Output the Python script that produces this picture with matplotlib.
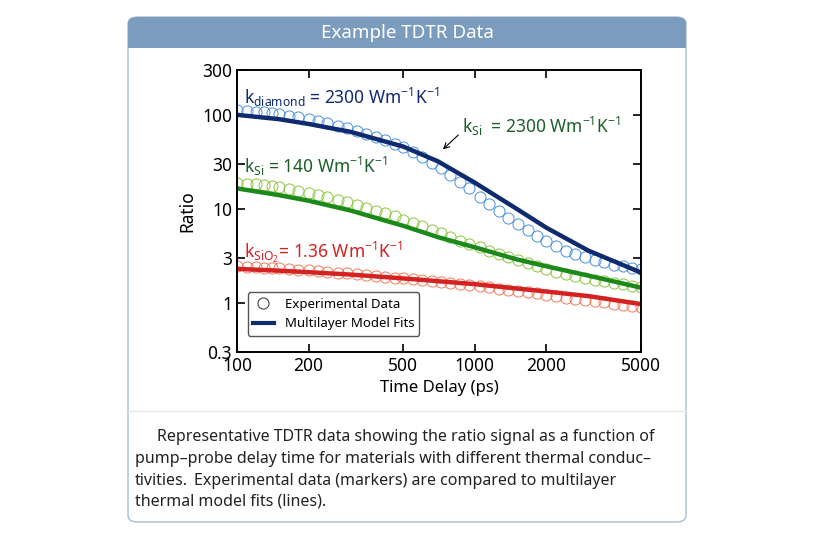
import matplotlib.pyplot as plt
from matplotlib.patches import FancyBboxPatch, Rectangle
from matplotlib.lines import Line2D

plt.rcParams['font.family'] = ['Noto Sans', 'DejaVu Sans']
plt.rcParams['mathtext.fontset'] = 'custom'
plt.rcParams['mathtext.rm'] = 'Noto Sans'
plt.rcParams['mathtext.it'] = 'Noto Sans'

# fitted model curves
fit_t = [100, 150, 200, 300, 500, 700, 1000, 1500, 2000, 3000, 5000]
fit_diamond = [100, 90, 80, 66, 46, 32, 19, 10, 6.3, 3.6, 2.1]
fit_si = [16.5, 14, 12.2, 9.6, 6.6, 5.0, 3.9, 2.9, 2.45, 1.95, 1.45]
fit_sio2 = [2.3, 2.2, 2.12, 2.0, 1.82, 1.7, 1.58, 1.42, 1.32, 1.18, 0.97]

# experimental data
exp_t = [100, 110, 120, 130, 140, 150, 165, 180, 200, 220, 240, 265, 290, 320, 350,
         385, 420, 460, 500, 550, 600, 660, 720, 790, 870, 950, 1050, 1150, 1260,
         1380, 1520, 1670, 1830, 2000, 2200, 2420, 2650, 2900, 3200, 3500, 3850,
         4200, 4600, 5000]
exp_diamond = [112, 110, 108, 106, 104, 101, 98, 95, 90, 85, 81, 77, 73, 68, 63, 58,
               54, 49, 45, 40, 36, 31, 27, 23, 19.5, 16.5, 13.5, 11.3, 9.5, 8.0, 6.9,
               5.9, 5.1, 4.5, 4.0, 3.6, 3.3, 3.05, 2.85, 2.7, 2.55, 2.45, 2.35, 2.3]
exp_si = [19, 18.6, 18.2, 17.8, 17.4, 17, 16.3, 15.6, 14.8, 14, 13.3, 12.5, 11.8, 11,
          10.3, 9.6, 9.0, 8.3, 7.7, 7.1, 6.6, 6.0, 5.5, 5.0, 4.6, 4.2, 3.9, 3.6, 3.3,
          3.05, 2.85, 2.65, 2.45, 2.3, 2.15, 2.05, 1.95, 1.85, 1.77, 1.7, 1.63, 1.57,
          1.52, 1.47]
exp_sio2 = [2.45, 2.42, 2.4, 2.37, 2.35, 2.32, 2.29, 2.26, 2.22, 2.18, 2.14, 2.1, 2.06,
            2.02, 1.98, 1.94, 1.9, 1.86, 1.82, 1.78, 1.74, 1.7, 1.66, 1.62, 1.58, 1.54,
            1.5, 1.46, 1.42, 1.38, 1.34, 1.3, 1.26, 1.22, 1.18, 1.14, 1.1, 1.07, 1.04,
            1.01, 0.98, 0.95, 0.93, 0.91]

xticks = [100, 200, 500, 1000, 2000, 5000]
yticks = [0.3, 1, 3, 10, 30, 100, 300]

W, H = 816, 544
fig = plt.figure(figsize=(8.16, 5.44), dpi=100)

def fx(px):
    return px / W

def fy(py):
    return 1 - py / H

# card
card = FancyBboxPatch((fx(128), fy(522)), fx(686) - fx(128), fy(17) - fy(522),
                      boxstyle="round,pad=0,rounding_size=0.012", transform=fig.transFigure,
                      facecolor='white', edgecolor='#a9bcd2', linewidth=1.0, zorder=-5)
fig.patches.append(card)
head = FancyBboxPatch((fx(128), fy(48)), fx(686) - fx(128), fy(17) - fy(48),
                      boxstyle="round,pad=0,rounding_size=0.012", transform=fig.transFigure,
                      facecolor='#7b9cbd', edgecolor='none', zorder=-4)
fig.patches.append(head)
fig.patches.append(Rectangle((fx(128), fy(48)), fx(686) - fx(128), fy(38) - fy(48),
                             transform=fig.transFigure, facecolor='#7b9cbd', edgecolor='none',
                             zorder=-4))
fig.text(fx(407), fy(33), 'Example TDTR Data', color='white', fontsize=13.5,
         fontweight='bold', ha='center', va='center')
fig.lines.append(Line2D([fx(128), fx(686)], [fy(411), fy(411)], transform=fig.transFigure,
                        color='#e3e8ee', lw=1, zorder=-3))

ax = fig.add_axes([fx(237), fy(352), fx(641) - fx(237), fy(70) - fy(352)])
ax.set_zorder(2)
ax.patch.set_alpha(0)
ax.set_xscale('log')
ax.set_yscale('log')
ax.set_xlim(100, 5000)
ax.set_ylim(0.3, 300)

mk = dict(marker='o', ls='none', mfc='none', ms=8, mew=0.7)
ax.plot(exp_t, exp_diamond, mec='#4a90e2', **mk)
ax.plot(exp_t, exp_si, mec='#8cc63f', **mk)
ax.plot(exp_t, exp_sio2, mec='#f07a5a', **mk)
ax.plot(fit_t, fit_diamond, color='#0f2a6e', lw=3.2)
ax.plot(fit_t, fit_si, color='#1b8a1b', lw=3.2)
ax.plot(fit_t, fit_sio2, color='#d42222', lw=3.2)

ax.set_xticks(xticks)
ax.set_xticklabels([str(v) for v in xticks])
ax.set_yticks(yticks)
ax.set_yticklabels(['0.3', '1', '3', '10', '30', '100', '300'])
ax.minorticks_off()
ax.tick_params(direction='in', length=6, width=1.2, labelsize=12.5, top=True, right=True)
for s in ax.spines.values():
    s.set_linewidth(1.4)
ax.set_xlabel('Time Delay (ps)', fontsize=12)
ax.set_ylabel('Ratio', fontsize=12.5)

ax.text(107, 155, r'k$_{\mathregular{diamond}}$ = 2300 Wm$^{\mathregular{-1}}$K$^{\mathregular{-1}}$',
        color='#0f2a6e', fontsize=12.5, va='center')
ax.text(880, 75, r'k$_{\mathregular{Si}}$  = 2300 Wm$^{\mathregular{-1}}$K$^{\mathregular{-1}}$',
        color='#1b5e2b', fontsize=12.5, va='center')
ax.annotate('', xy=(720, 41), xytext=(870, 64),
            arrowprops=dict(arrowstyle='->', color='black', lw=0.8))
ax.text(107, 28, r'k$_{\mathregular{Si}}$ = 140 Wm$^{\mathregular{-1}}$K$^{\mathregular{-1}}$',
        color='#1b5e2b', fontsize=12.5, va='center')
ax.text(107, 3.4, r'k$_{\mathregular{SiO_2}}$= 1.36 Wm$^{\mathregular{-1}}$K$^{\mathregular{-1}}$',
        color='#d42222', fontsize=12.5, va='center')

handles = [Line2D([], [], marker='o', ls='none', mfc='none', mec='#444444', ms=8, mew=0.8),
           Line2D([], [], color='#0f2a6e', lw=3)]
ax.legend(handles, ['Experimental Data', 'Multilayer Model Fits'], loc='lower left',
          bbox_to_anchor=(0.01, 0.035), fontsize=9.5, frameon=True, edgecolor='#555555',
          fancybox=True, handlelength=1.6, framealpha=1)

cap = dict(fontsize=11.5, color='#222222', va='baseline')
fig.text(fx(157), fy(441), 'Representative TDTR data showing the ratio signal as a function of', **cap)
fig.text(fx(135), fy(463), 'pump\u2013probe delay time for materials with different thermal conduc\u2013', **cap)
t3 = fig.text(fx(135), fy(485), 'tivities.', **cap)
fig.text(0, 0, 'Experimental data (markers) are compared to multilayer', fontweight='bold',
         fontsize=11.5, color='#222222', va='baseline',
         transform=__import__('matplotlib').transforms.offset_copy(
             fig.transFigure, fig=fig, x=0, y=0, units='points'), alpha=0)
ann = fig.text(fx(135), fy(506), 'thermal model fits (lines)', fontweight='bold', **cap)
ax.annotate('Experimental data (markers) are compared to multilayer', xy=(1, 0), xycoords=t3,
            xytext=(4, 0), textcoords='offset points', fontweight='bold', fontsize=11.5,
            color='#222222', va='bottom', ha='left', annotation_clip=False)
ax.annotate('.', xy=(1, 0), xycoords=ann, xytext=(0, 0), textcoords='offset points',
            fontsize=11.5, color='#222222', va='bottom', ha='left', annotation_clip=False)

fig.savefig('out.png', dpi=100)
